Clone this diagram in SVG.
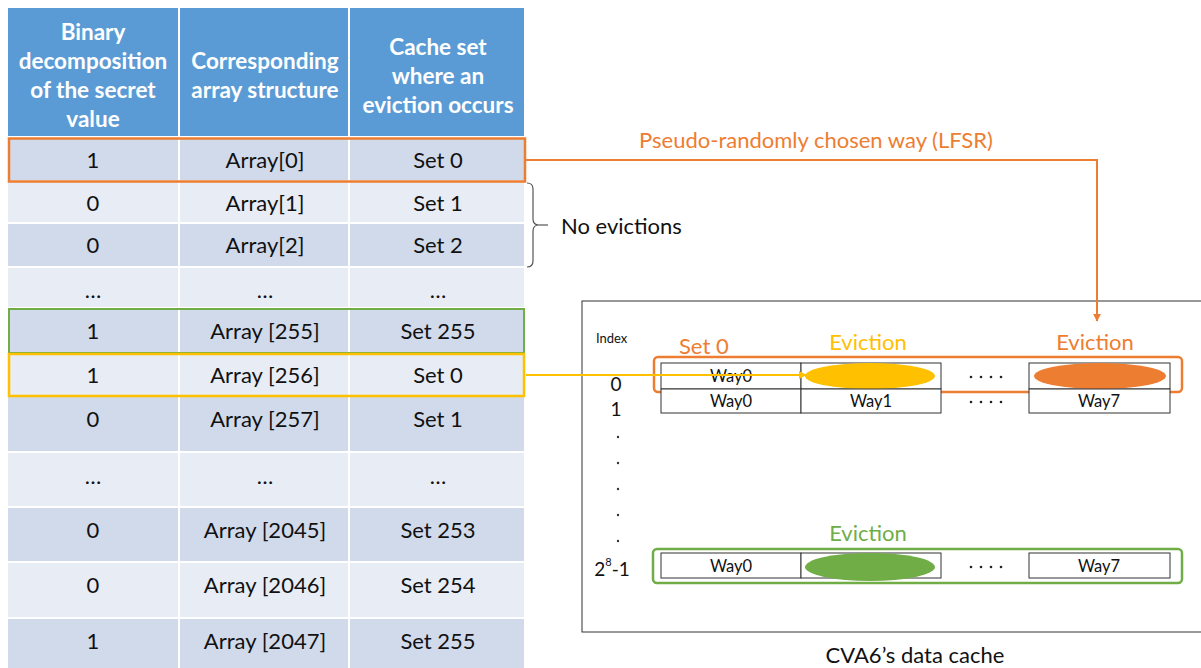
<svg xmlns="http://www.w3.org/2000/svg" width="1201" height="668" viewBox="0 0 1201 668">
  <style>
    .hdr { fill: #5B9BD5; }
    .dk { fill: #D0DAEB; }
    .lt { fill: #E8ECF5; }
    .sep { stroke: #FFFFFF; stroke-width: 2; }
    .ht { font-family: Lato, "Open Sans", sans-serif; font-size: 22.5px; font-weight: bold; fill: #FFFFFF; text-anchor: middle; dominant-baseline: central; }
    .ct { font-family: Lato, "Open Sans", sans-serif; font-size: 22px; fill: #111111; text-anchor: middle; dominant-baseline: central; }
    .lbl { font-family: Lato, "Open Sans", sans-serif; font-size: 22px; dominant-baseline: central; }
    .cell { fill: #FFFFFF; stroke: #333333; stroke-width: 1; }
    .wt { font-family: Lato, "Open Sans", sans-serif; font-size: 16.5px; fill: #111111; text-anchor: middle; dominant-baseline: central; }
    .idx { font-family: Lato, "Open Sans", sans-serif; font-size: 19px; fill: #111111; text-anchor: middle; dominant-baseline: central; }
    .dot { fill: #333333; }
  </style>
  <defs>
    <marker id="arrOrange" viewBox="0 0 10 10" refX="9" refY="5" markerWidth="4" markerHeight="4" orient="auto">
      <path d="M0,0 L10,5 L0,10 z" fill="#ED7D31"/>
    </marker>
    <marker id="arrYellow" viewBox="0 0 10 10" refX="9" refY="5" markerWidth="4" markerHeight="4" orient="auto">
      <path d="M0,0 L10,5 L0,10 z" fill="#FFC000"/>
    </marker>
    <!-- row of four small dots standing for the elided ways -->
    <g id="wayDots">
      <circle cx="-15" cy="0" r="1.3"/>
      <circle cx="-5" cy="0" r="1.3"/>
      <circle cx="5" cy="0" r="1.3"/>
      <circle cx="15" cy="0" r="1.3"/>
    </g>
  </defs>
  <rect width="1201" height="668" fill="#FFFFFF"/>

  <!-- table -->
  <g id="table">
    <rect class="hdr" x="8" y="8" width="516" height="129"/>
    <rect class="dk" x="8" y="137" width="516" height="44"/>
    <rect class="lt" x="8" y="181" width="516" height="42"/>
    <rect class="dk" x="8" y="223" width="516" height="44"/>
    <rect class="lt" x="8" y="267" width="516" height="41"/>
    <rect class="dk" x="8" y="308" width="516" height="45"/>
    <rect class="lt" x="8" y="353" width="516" height="43"/>
    <rect class="dk" x="8" y="396" width="516" height="56"/>
    <rect class="lt" x="8" y="452" width="516" height="55"/>
    <rect class="dk" x="8" y="507" width="516" height="55"/>
    <rect class="lt" x="8" y="562" width="516" height="56"/>
    <rect class="dk" x="8" y="618" width="516" height="50"/>
    <!-- white grid lines -->
    <line class="sep" x1="179" y1="8" x2="179" y2="668"/>
    <line class="sep" x1="349" y1="8" x2="349" y2="668"/>
    <line class="sep" x1="8" y1="137" x2="524" y2="137"/>
    <line class="sep" x1="8" y1="181" x2="524" y2="181"/>
    <line class="sep" x1="8" y1="223" x2="524" y2="223"/>
    <line class="sep" x1="8" y1="267" x2="524" y2="267"/>
    <line class="sep" x1="8" y1="308" x2="524" y2="308"/>
    <line class="sep" x1="8" y1="353" x2="524" y2="353"/>
    <line class="sep" x1="8" y1="396" x2="524" y2="396"/>
    <line class="sep" x1="8" y1="452" x2="524" y2="452"/>
    <line class="sep" x1="8" y1="507" x2="524" y2="507"/>
    <line class="sep" x1="8" y1="562" x2="524" y2="562"/>
    <line class="sep" x1="8" y1="618" x2="524" y2="618"/>

    <!-- header text -->
    <text class="ht" x="93" y="31">Binary</text>
    <text class="ht" x="93" y="60">decomposition</text>
    <text class="ht" x="93" y="89">of the secret</text>
    <text class="ht" x="93" y="118">value</text>
    <text class="ht" x="265" y="60">Corresponding</text>
    <text class="ht" x="265" y="89">array structure</text>
    <text class="ht" x="438" y="46">Cache set</text>
    <text class="ht" x="438" y="75">where an</text>
    <text class="ht" x="438" y="104">eviction occurs</text>

    <!-- body text -->
    <text class="ct" x="93" y="159">1</text><text class="ct" x="265" y="159">Array[0]</text><text class="ct" x="438" y="159">Set 0</text>
    <text class="ct" x="93" y="202">0</text><text class="ct" x="265" y="202">Array[1]</text><text class="ct" x="438" y="202">Set 1</text>
    <text class="ct" x="93" y="244">0</text><text class="ct" x="265" y="244">Array[2]</text><text class="ct" x="438" y="244">Set 2</text>
    <text class="ct" x="93" y="289">…</text><text class="ct" x="265" y="289">…</text><text class="ct" x="438" y="289">…</text>
    <text class="ct" x="93" y="330">1</text><text class="ct" x="265" y="330">Array [255]</text><text class="ct" x="438" y="330">Set 255</text>
    <text class="ct" x="93" y="374">1</text><text class="ct" x="265" y="374">Array [256]</text><text class="ct" x="438" y="374">Set 0</text>
    <text class="ct" x="93" y="418">0</text><text class="ct" x="265" y="418">Array [257]</text><text class="ct" x="438" y="418">Set 1</text>
    <text class="ct" x="93" y="475">…</text><text class="ct" x="265" y="475">…</text><text class="ct" x="438" y="475">…</text>
    <text class="ct" x="93" y="529">0</text><text class="ct" x="265" y="529">Array [2045]</text><text class="ct" x="438" y="529">Set 253</text>
    <text class="ct" x="93" y="584">0</text><text class="ct" x="265" y="584">Array [2046]</text><text class="ct" x="438" y="584">Set 254</text>
    <text class="ct" x="93" y="640">1</text><text class="ct" x="265" y="640">Array [2047]</text><text class="ct" x="438" y="640">Set 255</text>

    <!-- highlighted rows -->
    <rect x="9" y="138.5" width="516" height="43" fill="none" stroke="#ED7D31" stroke-width="2.5"/>
    <rect x="9" y="309" width="515" height="44" fill="none" stroke="#70AD47" stroke-width="2"/>
    <rect x="9" y="354" width="515" height="42" fill="none" stroke="#FFC000" stroke-width="2.5"/>
  </g>

  <!-- brace and note -->
  <g id="no-evictions">
    <path d="M527,183 Q533,183 533,189 L533,219 Q533,225 539,225 Q533,225 533,231 L533,261 Q533,267 527,267" fill="none" stroke="#555555" stroke-width="1.2"/>
    <line x1="539" y1="225" x2="548" y2="225" stroke="#555555" stroke-width="1.2"/>
    <text class="lbl" x="561" y="225" fill="#111111">No evictions</text>
  </g>

  <!-- cache -->
  <g id="cache">
    <rect x="582" y="301" width="620" height="331" fill="none" stroke="#333333" stroke-width="1"/>
    <text x="596" y="338" font-family="Lato, 'Open Sans', sans-serif" font-size="13" fill="#111111" dominant-baseline="central">Index</text>
    <text class="lbl" x="679" y="345" fill="#ED7D31">Set 0</text>
    <text class="lbl" x="868" y="341" fill="#FFC000" text-anchor="middle">Eviction</text>
    <text class="lbl" x="1095" y="341" fill="#ED7D31" text-anchor="middle">Eviction</text>
    <text class="lbl" x="868" y="532" fill="#70AD47" text-anchor="middle">Eviction</text>

    <!-- index labels -->
    <text class="idx" x="616" y="383">0</text>
    <text class="idx" x="616" y="408">1</text>
    <circle class="dot" cx="618" cy="437" r="1.2"/>
    <circle class="dot" cx="618" cy="463" r="1.2"/>
    <circle class="dot" cx="618" cy="489" r="1.2"/>
    <circle class="dot" cx="618" cy="515" r="1.2"/>
    <circle class="dot" cx="618" cy="541" r="1.2"/>
    <text class="idx" x="612" y="568">2<tspan font-size="11" dy="-7">8</tspan><tspan dy="7">-1</tspan></text>

    <!-- set 0 -->
    <g id="set0">
      <rect class="cell" x="661" y="363" width="140" height="26"/>
      <rect class="cell" x="801" y="363" width="140" height="26"/>
      <rect class="cell" x="1029" y="363" width="141" height="26"/>
      <text class="wt" x="731" y="376">Way0</text>
      <use href="#wayDots" x="986" y="377" fill="#222222"/>
      <ellipse cx="870" cy="376" rx="65" ry="13" fill="#FFC000"/>
      <ellipse cx="1100" cy="376" rx="66" ry="13" fill="#ED7D31"/>
      <rect x="654" y="357" width="528" height="35" rx="4" fill="none" stroke="#ED7D31" stroke-width="2.5"/>
    </g>
    <!-- set 1 -->
    <g id="set1">
      <rect class="cell" x="661" y="389" width="140" height="24"/>
      <rect class="cell" x="801" y="389" width="140" height="24"/>
      <rect class="cell" x="1029" y="389" width="141" height="24"/>
      <text class="wt" x="731" y="401">Way0</text>
      <text class="wt" x="871" y="401">Way1</text>
      <use href="#wayDots" x="986" y="402" fill="#222222"/>
      <text class="wt" x="1099" y="401">Way7</text>
    </g>
    <!-- last set -->
    <g id="set255">
      <rect class="cell" x="661" y="553" width="140" height="25"/>
      <rect class="cell" x="801" y="553" width="140" height="25"/>
      <rect class="cell" x="1029" y="553" width="141" height="25"/>
      <text class="wt" x="731" y="566">Way0</text>
      <use href="#wayDots" x="986" y="567" fill="#222222"/>
      <text class="wt" x="1099" y="566">Way7</text>
      <ellipse cx="870" cy="567" rx="65" ry="14" fill="#70AD47"/>
      <rect x="653" y="549" width="529" height="34" rx="4" fill="none" stroke="#70AD47" stroke-width="2.5"/>
    </g>
    <text class="lbl" x="915" y="654" fill="#111111" text-anchor="middle">CVA6’s data cache</text>
  </g>

  <!-- connectors -->
  <g id="connectors" fill="none">
    <polyline points="526,160 1097,160 1097,321" stroke="#ED7D31" stroke-width="2" marker-end="url(#arrOrange)"/>
    <text class="lbl" x="816" y="139" fill="#ED7D31" stroke="none" text-anchor="middle">Pseudo-randomly chosen way (LFSR)</text>
    <line x1="526" y1="375" x2="806" y2="375" stroke="#FFC000" stroke-width="2" marker-end="url(#arrYellow)"/>
  </g>
</svg>
